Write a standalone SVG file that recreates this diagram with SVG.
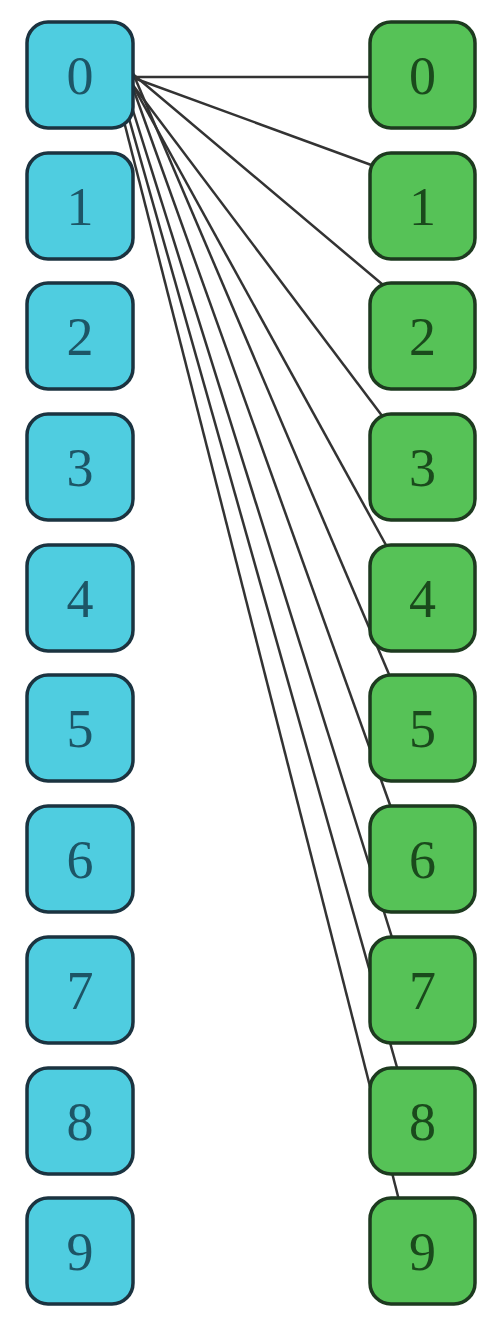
<svg xmlns="http://www.w3.org/2000/svg" width="486" height="1328" viewBox="0 0 486 1328">
<style>
.src rect{fill:#4fcde0;stroke:#1b3340;stroke-width:3.5}
.dst rect{fill:#56c257;stroke:#1d3a1f;stroke-width:3.5}
.src text{fill:#1d5566}
.dst text{fill:#1a4a1c}
text{font-family:"Liberation Serif","DejaVu Serif",serif;font-size:54px;text-anchor:middle}
#edges line{stroke:#333;stroke-width:2.5;fill:none}
</style>
<rect width="486" height="1328" fill="#fff"/>
<g id="edges">
<line x1="120" y1="77" x2="380" y2="77"/>
<line x1="120" y1="73" x2="385" y2="170"/>
<line x1="128" y1="70" x2="395" y2="295"/>
<line x1="121.5" y1="70" x2="389" y2="425"/>
<line x1="124.4" y1="70" x2="392" y2="556"/>
<line x1="131.6" y1="70" x2="394" y2="686"/>
<line x1="126.5" y1="70" x2="394" y2="816"/>
<line x1="120.3" y1="70" x2="395" y2="947"/>
<line x1="115.3" y1="70" x2="400" y2="1078"/>
<line x1="110.9" y1="70" x2="401" y2="1208"/>
</g>
<g id="s0" class="src"><rect x="27" y="22" width="106" height="106" rx="21"/><text x="80" y="94">0</text></g>
<g id="s1" class="src"><rect x="27" y="153" width="106" height="106" rx="21"/><text x="80" y="225">1</text></g>
<g id="s2" class="src"><rect x="27" y="283" width="106" height="106" rx="21"/><text x="80" y="355">2</text></g>
<g id="s3" class="src"><rect x="27" y="414" width="106" height="106" rx="21"/><text x="80" y="486">3</text></g>
<g id="s4" class="src"><rect x="27" y="545" width="106" height="106" rx="21"/><text x="80" y="617">4</text></g>
<g id="s5" class="src"><rect x="27" y="675" width="106" height="106" rx="21"/><text x="80" y="747">5</text></g>
<g id="s6" class="src"><rect x="27" y="806" width="106" height="106" rx="21"/><text x="80" y="878">6</text></g>
<g id="s7" class="src"><rect x="27" y="937" width="106" height="106" rx="21"/><text x="80" y="1009">7</text></g>
<g id="s8" class="src"><rect x="27" y="1068" width="106" height="106" rx="21"/><text x="80" y="1140">8</text></g>
<g id="s9" class="src"><rect x="27" y="1198" width="106" height="106" rx="21"/><text x="80" y="1270">9</text></g>
<g id="d0" class="dst"><rect x="370" y="22" width="105" height="106" rx="21"/><text x="422.5" y="94">0</text></g>
<g id="d1" class="dst"><rect x="370" y="153" width="105" height="106" rx="21"/><text x="422.5" y="225">1</text></g>
<g id="d2" class="dst"><rect x="370" y="283" width="105" height="106" rx="21"/><text x="422.5" y="355">2</text></g>
<g id="d3" class="dst"><rect x="370" y="414" width="105" height="106" rx="21"/><text x="422.5" y="486">3</text></g>
<g id="d4" class="dst"><rect x="370" y="545" width="105" height="106" rx="21"/><text x="422.5" y="617">4</text></g>
<g id="d5" class="dst"><rect x="370" y="675" width="105" height="106" rx="21"/><text x="422.5" y="747">5</text></g>
<g id="d6" class="dst"><rect x="370" y="806" width="105" height="106" rx="21"/><text x="422.5" y="878">6</text></g>
<g id="d7" class="dst"><rect x="370" y="937" width="105" height="106" rx="21"/><text x="422.5" y="1009">7</text></g>
<g id="d8" class="dst"><rect x="370" y="1068" width="105" height="106" rx="21"/><text x="422.5" y="1140">8</text></g>
<g id="d9" class="dst"><rect x="370" y="1198" width="105" height="106" rx="21"/><text x="422.5" y="1270">9</text></g>
</svg>
